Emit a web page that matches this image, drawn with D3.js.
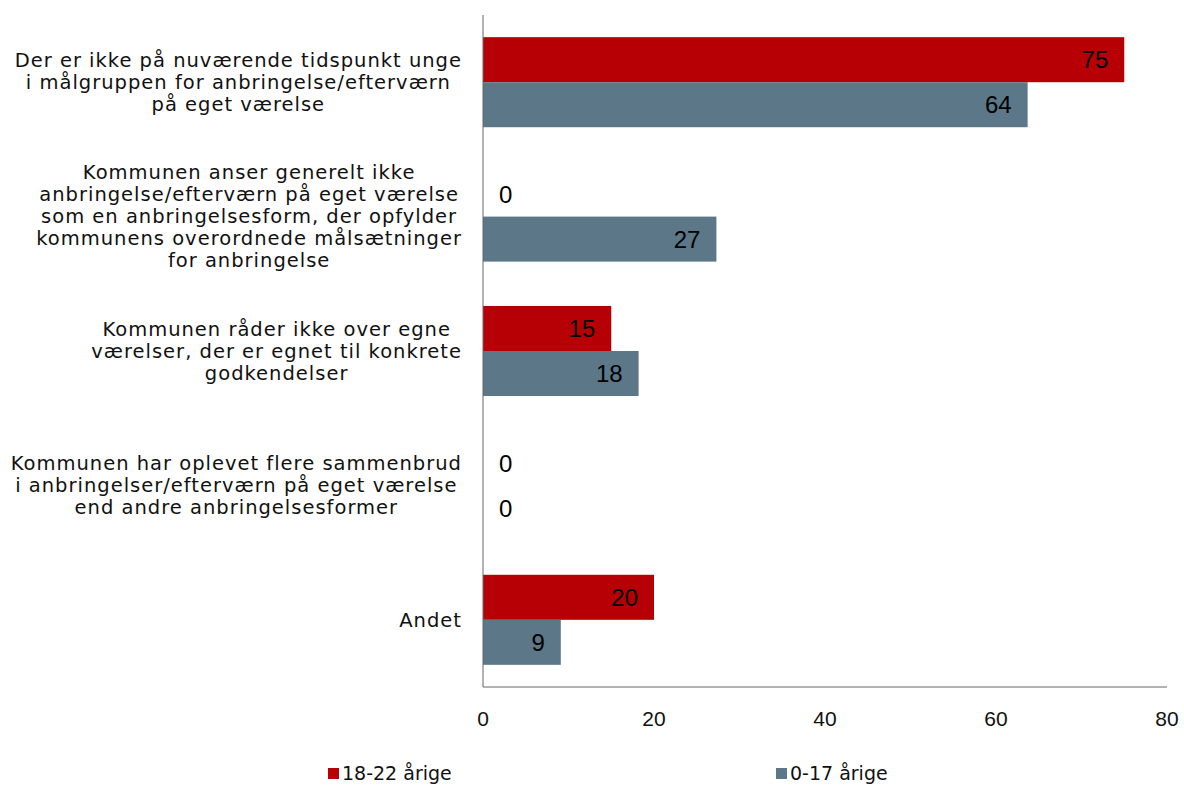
<!DOCTYPE html>
<html>
<head>
<meta charset="utf-8">
<script src="https://cdn.jsdelivr.net/npm/d3@7"></script>
<style>
  body { margin: 0; background: #fff; }
  svg { display: block; }
</style>
</head>
<body>
<div id="chart"></div>
<script>
// kategorier (hver linje i etiketten for sig)
const kategorier = [
  ["Der er ikke på nuværende tidspunkt unge", "i målgruppen for anbringelse/efterværn", "på eget værelse"],
  ["Kommunen anser generelt ikke", "anbringelse/efterværn på eget værelse", "som en anbringelsesform, der opfylder", "kommunens overordnede målsætninger", "for anbringelse"],
  ["Kommunen råder ikke over egne", "værelser, der er egnet til konkrete", "godkendelser"],
  ["Kommunen har oplevet flere sammenbrud", "i anbringelser/efterværn på eget værelse", "end andre anbringelsesformer"],
  ["Andet"]
];
const serier = ["18-22 årige", "0-17 årige"];
const vaerdier1822 = [75, 0, 15, 0, 20];
const vaerdier017 = [63.7, 27.3, 18.2, 0, 9.1];
const xTicks = [0, 20, 40, 60, 80];
const farver = ["#b60005", "#5b7788"];

const W = 1184, H = 785;
const margin = { top: 15, left: 483, right: 17, bottom: 98 };
const width = W - margin.left - margin.right;
const height = H - margin.top - margin.bottom;

const svg = d3.select("#chart").append("svg")
  .attr("width", W).attr("height", H);

const g = svg.append("g")
  .attr("transform", "translate(" + margin.left + "," + margin.top + ")");

const x = d3.scaleLinear().domain([0, 80]).range([0, width]);
const y = d3.scaleBand().domain(d3.range(kategorier.length)).range([0, height]).paddingInner(0.33).paddingOuter(0.165);
const ySub = d3.scaleBand().domain([0, 1]).range([0, y.bandwidth()]);

const data = kategorier.map((k, i) => ({ i: i, vals: [vaerdier1822[i], vaerdier017[i]] }));

// søjler
const grp = g.selectAll(".kat").data(data).enter().append("g")
  .attr("transform", d => "translate(0," + y(d.i) + ")");

grp.selectAll("rect").data(d => d.vals.map((v, s) => ({ v: v, s: s }))).enter()
  .append("rect")
  .attr("x", 0)
  .attr("y", d => ySub(d.s))
  .attr("width", d => x(d.v))
  .attr("height", ySub.bandwidth())
  .attr("fill", d => farver[d.s]);

// værdi-etiketter
grp.selectAll("text.val").data(d => d.vals.map((v, s) => ({ v: v, s: s }))).enter()
  .append("text")
  .attr("class", "val")
  .attr("x", d => d.v === 0 ? 16 : x(d.v) - 16)
  .attr("y", d => ySub(d.s) + ySub.bandwidth() / 2)
  .attr("dy", "0.36em")
  .attr("text-anchor", d => d.v === 0 ? "start" : "end")
  .style("font-family", "'Liberation Sans', Arial, sans-serif")
  .style("font-size", "24px")
  .attr("fill", "#000")
  .text(d => Math.round(d.v));

// akser
g.append("line").attr("x1", 0).attr("x2", 0).attr("y1", 0).attr("y2", height)
  .attr("stroke", "#666").attr("stroke-width", 1);
g.append("line").attr("x1", 0).attr("x2", width).attr("y1", height).attr("y2", height)
  .attr("stroke", "#666").attr("stroke-width", 1);

g.selectAll("text.tick").data(xTicks).enter().append("text")
  .attr("x", d => x(d))
  .attr("y", height + 39)
  .attr("text-anchor", "middle")
  .style("font-family", "'Liberation Sans Narrow', 'Liberation Sans', sans-serif")
  .style("font-size", "21px")
  .attr("fill", "#111")
  .text(d => d);

// kategori-etiketter: linjer centreret i en blok, blokken højrestillet
const etiketFont = "'DejaVu Sans', Verdana, sans-serif";
const lab = svg.append("g");
kategorier.forEach((linjer, i) => {
  const blok = lab.append("g");
  const cy = margin.top + y(i) + y.bandwidth() / 2;
  const lh = 22;
  const t = blok.selectAll("text").data(linjer).enter().append("text")
    .attr("y", (d, j) => cy + (j - (linjer.length - 1) / 2) * lh)
    .attr("dy", "0.35em")
    .attr("text-anchor", "middle")
    .style("font-family", etiketFont)
    .style("font-size", "19.5px")
    .style("letter-spacing", "1px")
    .attr("fill", "#111")
    .text(d => d);
  let maks = 0;
  t.each(function () { maks = Math.max(maks, this.getComputedTextLength()); });
  t.attr("x", 462 - maks / 2);
});

// legende
const leg = svg.append("g");
const legPos = [328, 776];
serier.forEach((s, i) => {
  leg.append("rect").attr("x", legPos[i]).attr("y", 768).attr("width", 11).attr("height", 11).attr("fill", farver[i]);
  leg.append("text").attr("x", legPos[i] + 14).attr("y", 780)
    .style("font-family", etiketFont).style("font-size", "19px").attr("fill", "#111")
    .text(s);
});
</script>
</body>
</html>
